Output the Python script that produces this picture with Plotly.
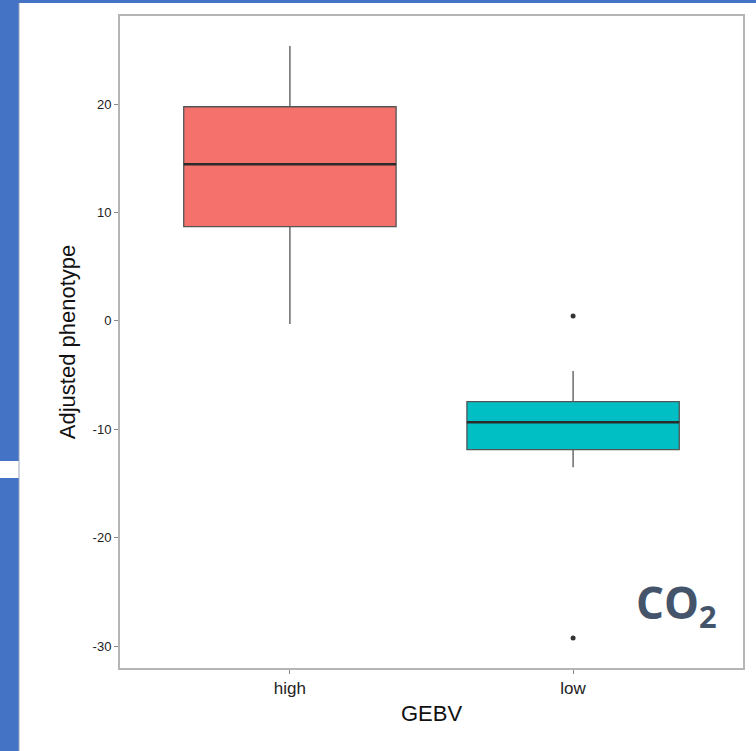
import plotly.graph_objects as go

# ---- data ----
categories = ["high", "low"]
q1 = [8.68, -11.89]
median = [14.44, -9.36]
q3 = [19.75, -7.46]
lower_fence = [-0.30, -13.51]
upper_fence = [25.35, -4.63]
fill_colors = ["#F4726B", "#00BFC4"]
outlier_cat = ["low", "low"]
outlier_val = [0.44, -29.26]
y_ticks = [-30, -20, -10, 0, 10, 20]

W, H = 756, 751
ML, MR, MT, MB = 120, 13, 16, 83
PW, PH = W - ML - MR, H - MT - MB


def px_x(x):
    return (x - ML) / PW


def px_y(y):
    return (H - MB - y) / PH


fig = go.Figure()
for i, c in enumerate(categories):
    fig.add_trace(go.Box(
        x=[c], q1=[q1[i]], median=[median[i]], q3=[q3[i]],
        lowerfence=[lower_fence[i]], upperfence=[upper_fence[i]],
        fillcolor=fill_colors[i],
        line=dict(color="#555555", width=1.3),
        whiskerwidth=0, width=0.75, boxpoints=False,
        showlegend=False, hoverinfo="skip",
    ))
    # thicker median bar drawn over the box (ggplot style)
    fig.add_trace(go.Box(
        x=[c], q1=[median[i]], median=[median[i]], q3=[median[i]],
        lowerfence=[median[i]], upperfence=[median[i]],
        fillcolor="rgba(0,0,0,0)",
        line=dict(color="#2b2b2b", width=2.4),
        whiskerwidth=0, width=0.75, boxpoints=False,
        showlegend=False, hoverinfo="skip",
    ))

fig.add_trace(go.Scatter(
    x=outlier_cat, y=outlier_val, mode="markers",
    marker=dict(color="#333333", size=5), showlegend=False, hoverinfo="skip",
))

BLUE = "#4472C4"
shapes = [
    dict(type="rect", xref="paper", yref="paper", x0=px_x(0), x1=px_x(19),
         y0=px_y(H), y1=px_y(0), fillcolor=BLUE, line_width=0, layer="below"),
    dict(type="rect", xref="paper", yref="paper", x0=px_x(0), x1=px_x(W),
         y0=px_y(3), y1=px_y(0), fillcolor=BLUE, line_width=0, layer="below"),
    dict(type="rect", xref="paper", yref="paper", x0=px_x(0), x1=px_x(19),
         y0=px_y(478), y1=px_y(461), fillcolor="white", line_width=0, layer="below"),
    dict(type="line", xref="paper", yref="paper", x0=px_x(19), x1=px_x(19),
         y0=px_y(H), y1=px_y(3), line=dict(color="#9aa7c0", width=1), layer="below"),
]

fig.update_layout(
    width=W, height=H,
    margin=dict(l=ML, r=MR, t=MT, b=MB, pad=0),
    paper_bgcolor="white", plot_bgcolor="white",
    font=dict(family="Liberation Sans, Arial, sans-serif", color="#222222"),
    shapes=shapes,
    boxmode="overlay",
    xaxis=dict(
        type="category", categoryorder="array", categoryarray=categories,
        range=[-0.6, 1.6],
        showline=True, mirror=True, linecolor="#B5B5B5", linewidth=2,
        showgrid=False, zeroline=False,
        ticks="outside", ticklen=4, tickcolor="#888888", tickwidth=1,
        tickfont=dict(size=17, color="#222222"),
        title=dict(text="GEBV", font=dict(size=22, color="#111111"), standoff=8),
    ),
    yaxis=dict(
        range=[-32.03, 28.12],
        tickvals=y_ticks, ticktext=[str(v) for v in y_ticks],
        showline=True, mirror=True, linecolor="#B5B5B5", linewidth=2,
        showgrid=False, zeroline=False,
        ticks="outside", ticklen=4, tickcolor="#888888", tickwidth=1,
        tickfont=dict(size=13, color="#222222"),
        title=dict(text="Adjusted phenotype", font=dict(size=22, color="#111111"), standoff=11),
    ),
    annotations=[dict(
        text="<b>CO<sub>2</sub></b>", xref="paper", yref="paper",
        x=px_x(719), y=px_y(639), xanchor="right", yanchor="bottom",
        showarrow=False,
        font=dict(family="Open Sans, sans-serif", size=44, color="#44546A"),
    )],
)

fig.write_html("out.html")
